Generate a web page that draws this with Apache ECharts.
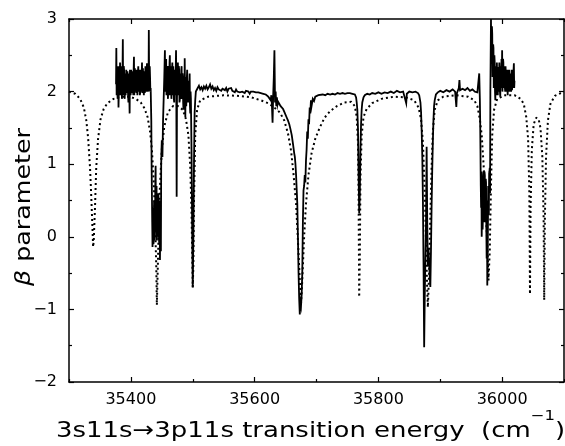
<!DOCTYPE html>
<html>
<head>
<meta charset="utf-8">
<script src="https://cdn.jsdelivr.net/npm/echarts@6/dist/echarts.min.js"></script>
<style>
  html, body { margin: 0; padding: 0; background: #fff; }
  #chart { width: 565px; height: 446px; }
</style>
</head>
<body>
<div id="chart"></div>
<script>
// Axis ranges and tick positions (cm^-1 and beta)
const xRange = [35300, 36100];
const yRange = [-2, 3];
const xMajorTicks = [35400, 35600, 35800, 36000];
const xMinorTicks = [35300, 35500, 35700, 35900, 36100];

// Calculated beta parameter (dotted curve): [energy, beta]
const theory = [
  [35300,2.00],[35310,1.97],[35318,1.90],[35324,1.78],[35328,1.60],[35331,1.35],[35334,0.95],[35336,0.55],[35338,0.10],[35339,-0.14],
  [35340,-0.05],[35342,0.40],[35344,0.95],[35347,1.35],[35351,1.62],[35356,1.76],[35362,1.84],[35372,1.90],[35385,1.93],[35398,1.93],
  [35408,1.90],[35416,1.85],[35422,1.77],[35427,1.65],[35431,1.45],[35434,1.20],[35437,0.75],[35439,0.25],[35441,-0.40],[35442,-0.94],
  [35443,-0.60],[35445,0.10],[35447,0.70],[35450,1.20],[35454,1.52],[35460,1.72],[35468,1.80],[35476,1.80],[35484,1.75],[35489,1.62],
  [35493,1.40],[35496,0.95],[35498,0.35],[35500,-0.69],[35501,-0.40],[35502,0.50],[35504,1.40],[35507,1.75],[35512,1.88],[35525,1.93],
  [35550,1.95],[35575,1.94],[35595,1.92],[35610,1.88],[35622,1.84],[35632,1.78],[35641,1.71],[35648,1.60],[35654,1.42],[35659,1.18],
  [35663,0.85],[35667,0.45],[35670,-0.05],[35673,-0.60],[35675,-0.92],[35677,-0.60],[35680,0.00],[35683,0.45],[35687,0.85],[35692,1.15],
  [35698,1.35],[35705,1.50],[35713,1.64],[35722,1.73],[35733,1.80],[35745,1.85],[35756,1.86],[35762,1.80],[35765,1.65],[35767,1.30],
  [35768,0.60],[35769,-0.83],[35770,-0.30],[35771,0.80],[35773,1.40],[35776,1.65],[35781,1.76],[35790,1.84],[35805,1.90],[35825,1.93],
  [35845,1.92],[35858,1.88],[35865,1.78],[35869,1.62],[35872,1.30],[35875,0.60],[35877,-0.10],[35879,-0.75],[35880,-0.97],[35882,-0.50],
  [35884,0.30],[35886,0.95],[35888,1.45],[35891,1.75],[35896,1.88],[35905,1.93],[35925,1.95],[35945,1.93],[35955,1.88],[35960,1.80],
  [35964,1.62],[35967,1.40],[35970,1.00],[35973,0.50],[35976,-0.10],[35978,-0.60],[35980,-0.20],[35982,0.70],[35984,1.40],[35987,1.75],
  [35992,1.90],[36005,1.95],[36020,1.95],[36030,1.90],[36035,1.83],[36039,1.65],[36042,1.35],[36044,0.60],[36045,-0.79],[36046,0.40],
  [36048,1.20],[36051,1.55],[36055,1.64],[36059,1.62],[36062,1.50],[36065,1.10],[36067,0.30],[36068,-0.87],[36069,0.20],[36071,1.10],
  [36074,1.60],[36078,1.83],[36085,1.94],[36095,1.98],[36100,1.99]
];

// Measured beta parameter (solid curve): [energy, beta]
const measured = [
  [35376,2.10],[35376.5,2.60],[35377,1.95],[35378,2.30],[35379,2.05],[35380,1.78],[35381,2.25],[35382,2.10],[35383,2.20],[35384,1.95],
  [35385,2.35],[35386,2.05],[35387,2.72],[35388,2.10],[35389,2.30],[35390,1.90],[35391,2.15],[35392,2.05],[35393,2.20],[35394,2.00],
  [35395,2.12],[35396,1.85],[35397,2.10],[35398,1.70],[35399,2.20],[35400,2.00],[35401,2.15],[35402,2.05],[35403,2.25],[35404,1.95],
  [35405,2.48],[35406,2.10],[35407,2.00],[35408,2.20],[35409,1.98],[35410,2.15],[35411,2.05],[35412,2.35],[35413,2.08],[35414,2.18],
  [35415,1.98],[35416,2.22],[35417,2.05],[35418,2.40],[35419,2.10],[35420,2.15],[35421,1.95],[35422,2.30],[35423,2.05],[35424,2.20],
  [35425,2.10],[35426,2.39],[35427,2.00],[35428,2.15],[35429,2.85],[35430,2.10],[35431,2.20],[35432,2.05],[35433,1.60],[35434,0.60],
  [35435,-0.14],[35436,0.10],[35437,-0.05],[35438,0.35],[35439,0.10],[35440,0.98],[35441,0.45],[35442,-0.05],[35443,0.50],[35444,0.10],
  [35445,0.30],[35446,-0.10],[35447,-0.32],[35448,0.40],[35449,1.00],[35450,1.33],[35451,1.10],[35452,1.60],[35453,1.90],[35454,2.20],
  [35455,2.57],[35456,2.15],[35457,2.45],[35458,2.00],[35459,2.30],[35460,1.90],[35461,2.35],[35462,2.10],[35463,2.50],[35464,1.95],
  [35465,2.30],[35466,2.05],[35467,2.40],[35468,1.98],[35469,2.20],[35470,1.85],[35471,2.30],[35472,2.05],[35473,2.57],[35474,0.55],
  [35475,2.20],[35476,2.40],[35477,1.95],[35478,2.30],[35479,1.88],[35480,2.15],[35481,2.00],[35482,2.35],[35483,1.90],[35484,2.20],
  [35485,1.75],[35486,2.10],[35487,2.46],[35488,1.65],[35489,2.10],[35490,1.95],[35491,2.30],[35492,1.85],[35493,2.07],[35494,1.95],
  [35495,2.25],[35496,1.70],[35497,1.90],[35498,1.20],[35499,0.20],[35500,-0.70],[35501,0.00],[35502,1.00],[35503,1.70],[35504,1.88],
  [35505,2.00],[35506,2.02],[35508,2.05],[35510,2.08],[35512,2.03],[35514,2.06],[35516,2.02],[35518,2.07],[35520,2.04],[35522,2.08],
  [35524,2.03],[35526,2.06],[35528,2.10],[35530,2.04],[35532,2.07],[35534,2.02],[35536,2.05],[35538,2.01],[35540,2.06],[35542,2.03],
  [35544,2.05],[35546,2.01],[35548,2.04],[35550,2.06],[35552,2.02],[35554,2.05],[35556,2.00],[35558,2.04],[35560,2.02],[35562,2.05],
  [35564,2.01],[35566,2.03],[35568,1.99],[35570,2.03],[35572,2.00],[35574,2.02],[35576,1.99],[35578,2.01],[35580,2.00],[35582,2.02],
  [35584,1.98],[35586,2.01],[35588,1.99],[35590,2.00],[35592,1.97],[35594,2.00],[35596,1.98],[35598,2.00],[35600,1.98],[35602,1.99],
  [35604,1.97],[35606,1.99],[35608,1.97],[35610,1.98],[35612,1.96],[35614,1.97],[35616,1.95],[35618,1.96],[35620,1.94],[35622,1.93],
  [35624,1.92],[35626,1.88],[35627,1.95],[35628,1.80],[35629,1.57],[35630,1.95],[35631,2.20],[35632,2.57],[35633,1.85],[35634,2.00],
  [35635,1.80],[35636,1.92],[35637,1.82],[35638,1.86],[35640,1.83],[35642,1.80],[35644,1.82],[35646,1.76],[35648,1.72],[35650,1.70],
  [35652,1.64],[35654,1.60],[35656,1.55],[35658,1.48],[35660,1.40],[35662,1.28],[35664,1.15],[35665,1.10],[35666,1.00],[35667,0.85],
  [35668,0.65],[35669,0.45],[35670,0.00],[35671,-0.50],[35672,-0.85],[35673,-1.07],[35674,-0.90],[35675,-0.95],[35676,-0.80],[35677,-0.50],
  [35678,0.20],[35679,0.64],[35680,0.70],[35681,0.85],[35682,0.75],[35683,1.05],[35684,1.20],[35685,1.45],[35686,1.35],[35687,1.62],
  [35688,1.55],[35689,1.78],[35690,1.70],[35691,1.88],[35692,1.80],[35694,1.90],[35696,1.87],[35698,1.93],[35700,1.92],[35703,1.95],
  [35706,1.94],[35710,1.96],[35714,1.95],[35718,1.97],[35722,1.96],[35726,1.97],[35730,1.96],[35734,1.98],[35738,1.97],[35742,1.98],
  [35746,1.97],[35750,1.98],[35754,1.98],[35758,1.97],[35762,1.96],[35764,1.92],[35765,1.85],[35766,1.75],[35767,1.50],[35768,0.90],
  [35769,0.32],[35770,0.60],[35771,1.20],[35772,1.55],[35773,1.75],[35774,1.85],[35776,1.92],[35778,1.95],[35782,1.97],[35786,1.96],
  [35790,1.98],[35795,1.97],[35800,1.99],[35805,1.97],[35810,1.99],[35815,1.98],[35820,2.00],[35825,1.98],[35830,2.01],[35835,1.99],
  [35840,2.00],[35843,1.98],[35845,1.84],[35846,1.97],[35850,2.00],[35855,1.99],[35860,2.00],[35864,1.98],[35866,1.95],[35868,1.85],
  [35869,1.72],[35870,1.45],[35871,1.10],[35872,0.50],[35873,-0.40],[35874,-1.52],[35875,-0.80],[35876,-0.30],[35877,0.20],[35878,1.24],
  [35879,0.20],[35880,-0.41],[35881,-0.15],[35882,-0.35],[35883,-0.55],[35884,-0.69],[35885,-0.20],[35886,0.41],[35887,0.90],[35888,1.30],
  [35889,1.60],[35890,1.80],[35891,1.88],[35893,1.96],[35896,1.99],[35900,2.01],[35905,1.99],[35910,2.02],[35915,2.00],[35920,2.03],
  [35924,2.00],[35926,1.79],[35927,1.98],[35930,2.05],[35931,2.16],[35932,2.02],[35936,2.04],[35940,2.02],[35944,2.05],[35948,2.01],
  [35952,2.03],[35956,2.00],[35960,1.99],[35962,2.00],[35963,2.25],[35964,1.90],[35965,1.20],[35966,0.40],[35967,0.00],[35968,0.80],
  [35969,0.30],[35970,0.90],[35971,0.50],[35972,0.85],[35973,0.20],[35974,0.75],[35975,-0.30],[35976,-0.67],[35977,0.10],[35978,0.60],
  [35979,0.87],[35980,0.95],[35981,2.00],[35982,3.00],[35983,2.50],[35984,2.80],[35985,2.30],[35986,2.60],[35987,2.10],[35988,2.40],
  [35989,1.88],[35990,2.30],[35991,2.05],[35992,2.20],[35993,1.95],[35994,2.34],[35995,2.10],[35996,2.30],[35997,1.93],[35998,2.20],
  [35999,2.45],[36000,2.57],[36001,2.15],[36002,2.40],[36003,2.05],[36004,2.34],[36005,2.00],[36006,2.25],[36007,2.07],[36008,2.30],
  [36009,1.95],[36010,2.20],[36011,2.05],[36012,2.30],[36013,2.00],[36014,2.25],[36015,2.10],[36016,2.02],[36017,2.30],[36018,2.10],
  [36019,2.39],[36020,2.15]
];

// Extra half-step readings inside the noisy stretches of the measured trace
const measuredFine = [
  [35377.5,2.15],[35378.5,1.90],[35379.5,2.35],[35380.5,2.00],[35381.5,1.95],[35382.5,2.40],[35383.5,2.00],[35384.5,2.25],[35385.5,1.90],[35386.5,2.30],
  [35387.5,1.95],[35388.5,2.35],[35389.5,2.00],[35390.5,2.25],[35391.5,1.95],[35392.5,2.30],[35393.5,1.98],[35394.5,2.28],[35395.5,1.95],[35396.5,2.25],
  [35397.5,1.92],[35398.5,2.30],[35399.5,1.95],[35400.5,2.30],[35401.5,1.98],[35402.5,2.28],[35403.5,2.00],[35404.5,2.30],[35405.5,1.95],[35406.5,2.32],
  [35407.5,1.98],[35408.5,2.05],[35409.5,2.30],[35410.5,1.95],[35411.5,2.28],[35412.5,2.00],[35413.5,2.30],[35414.5,1.95],[35415.5,2.30],[35416.5,2.00],
  [35417.5,2.25],[35418.5,1.98],[35419.5,2.32],[35420.5,2.00],[35421.5,2.28],[35422.5,1.98],[35423.5,2.35],[35424.5,2.00],[35425.5,2.25],[35426.5,2.05],
  [35427.5,2.30],[35428.5,2.00],[35429.5,2.20],[35430.5,2.35],[35431.5,2.00],
  [35433.5,1.00],[35434.5,0.20],[35435.5,0.40],[35436.5,-0.10],[35437.5,0.50],[35438.5,-0.05],[35439.5,0.70],[35440.5,0.20],[35441.5,0.70],[35442.5,0.30],
  [35443.5,0.00],[35444.5,0.60],[35445.5,-0.05],[35446.5,0.50],[35447.5,0.20],[35448.5,-0.20],[35449.5,1.20],
  [35455.5,2.00],[35456.5,2.40],[35457.5,1.95],[35458.5,2.35],[35459.5,2.00],[35460.5,2.30],[35461.5,1.95],[35462.5,2.40],[35463.5,2.00],[35464.5,2.35],
  [35465.5,1.90],[35466.5,2.30],[35467.5,1.95],[35468.5,2.35],[35469.5,1.90],[35470.5,2.25],[35471.5,1.95],[35472.5,2.30],[35473.5,1.80],[35474.5,1.90],
  [35475.5,1.95],[35476.5,2.00],[35477.5,2.35],[35478.5,1.85],[35479.5,2.25],[35480.5,1.90],[35481.5,2.30],[35482.5,1.95],[35483.5,2.25],[35484.5,1.85],
  [35485.5,2.20],[35486.5,1.80],[35487.5,2.00],[35488.5,2.20],[35489.5,1.80],[35490.5,2.20],[35491.5,1.90],[35492.5,2.15],[35493.5,1.85],[35494.5,2.10],
  [35495.5,1.80],[35496.5,2.00],
  [35964.5,1.60],[35965.5,0.70],[35966.5,0.90],[35967.5,0.50],[35968.5,0.10],[35969.5,0.85],[35970.5,0.20],[35971.5,0.90],[35972.5,0.30],[35973.5,0.80],
  [35974.5,0.10],[35975.5,0.50],[35976.5,-0.40],[35977.5,0.70],[35978.5,0.30],[35979.5,0.90],[35980.5,0.60],
  [35982.5,2.40],[35983.5,2.90],[35984.5,2.20],[35985.5,2.65],[35986.5,2.05],[35987.5,2.50],[35988.5,2.00],[35989.5,2.35],[35990.5,1.95],[35991.5,2.40],
  [35992.5,2.00],[35993.5,2.30],[35994.5,2.00],[35995.5,2.40],[35996.5,2.00],[35997.5,2.35],[35998.5,2.05],[35999.5,2.20],[36000.5,2.00],[36001.5,2.45],
  [36002.5,2.05],[36003.5,2.35],[36004.5,2.05],[36005.5,2.35],[36006.5,2.00],[36007.5,2.30],[36008.5,2.05],[36009.5,2.30],[36010.5,2.00],[36011.5,2.30],
  [36012.5,2.05],[36013.5,2.25],[36014.5,2.00],[36015.5,2.30],[36016.5,2.15],[36017.5,2.05],[36018.5,2.30],[36019.5,2.05]
];

// Full measured trace, in energy order
const measuredTrace = measured.concat(measuredFine).sort((a, b) => a[0] - b[0]);

const FONT = 'DejaVu Sans';
const INK = '#000';

const chart = echarts.init(document.getElementById('chart'), null, { renderer: 'canvas' });

// One x axis per tick family (major/minor) and side (bottom/top)
function xAxisDef(position, ticks, len, withLabels, withLine) {
  return {
    type: 'value', position, min: xRange[0], max: xRange[1],
    axisLine: { show: withLine, onZero: false, lineStyle: { color: INK, width: 1.5 } },
    axisTick: { show: true, inside: true, length: len, customValues: ticks, lineStyle: { color: INK, width: 1.2 } },
    axisLabel: withLabels
      ? { show: true, customValues: ticks, margin: 10, color: INK, fontFamily: FONT, fontSize: 16,
          formatter: v => String(v) }
      : { show: false },
    splitLine: { show: false }
  };
}

function yAxisDef(position, withLabels) {
  return {
    type: 'value', position, min: yRange[0], max: yRange[1], interval: 1,
    axisLine: { show: true, onZero: false, lineStyle: { color: INK, width: 1.5 } },
    axisTick: { show: true, inside: true, length: 5, lineStyle: { color: INK, width: 1.2 } },
    minorTick: { show: true, splitNumber: 2, length: 3, lineStyle: { color: INK, width: 1.2 } },
    axisLabel: withLabels
      ? { show: true, margin: 12, color: INK, fontFamily: FONT, fontSize: 16,
          formatter: v => (v < 0 ? '\u2212' + Math.abs(v) : String(v)) }
      : { show: false },
    splitLine: { show: false },
    minorSplitLine: { show: false }
  };
}

chart.setOption({
  animation: false,
  backgroundColor: '#fff',
  grid: { left: 69, right: 1, top: 19, bottom: 64, containLabel: false },
  xAxis: [
    xAxisDef('bottom', xMajorTicks, 5, true, true),
    xAxisDef('bottom', xMinorTicks, 3, false, false),
    xAxisDef('top', xMajorTicks, 5, false, true),
    xAxisDef('top', xMinorTicks, 3, false, false)
  ],
  yAxis: [
    yAxisDef('left', true),
    yAxisDef('right', false)
  ],
  series: [
    {
      name: 'calculated', type: 'line', xAxisIndex: 0, yAxisIndex: 0,
      data: theory, showSymbol: false, symbol: 'none', smooth: false,
      lineStyle: { color: INK, width: 2, type: [2, 3], cap: 'butt' },
      z: 2
    },
    {
      name: 'measured', type: 'line', xAxisIndex: 0, yAxisIndex: 0,
      data: measuredTrace, showSymbol: false, symbol: 'none', smooth: false,
      lineStyle: { color: INK, width: 1.8, join: 'miter' },
      z: 3
    }
  ],
  graphic: [
    {
      type: 'text', x: 24, y: 207, rotation: Math.PI / 2, scaleX: 1.15,
      style: {
        text: '{b|\u03b2} parameter',
        font: '22px "DejaVu Sans"', fill: INK,
        align: 'center', verticalAlign: 'middle',
        rich: { b: { fontStyle: 'italic', fontFamily: FONT, fontSize: 22 } }
      }
    },
    {
      type: 'text', x: 56, y: 431, scaleX: 1.18,
      style: {
        text: '{m|3s11s\u21923p11s transition energy  (cm}{s|\u22121}{m|)}',
        fill: INK, align: 'left', verticalAlign: 'middle',
        rich: {
          m: { fontFamily: FONT, fontSize: 22, lineHeight: 44 },
          s: { fontFamily: FONT, fontSize: 14, lineHeight: 14, verticalAlign: 'top' }
        }
      }
    }
  ]
});
</script>
</body>
</html>
